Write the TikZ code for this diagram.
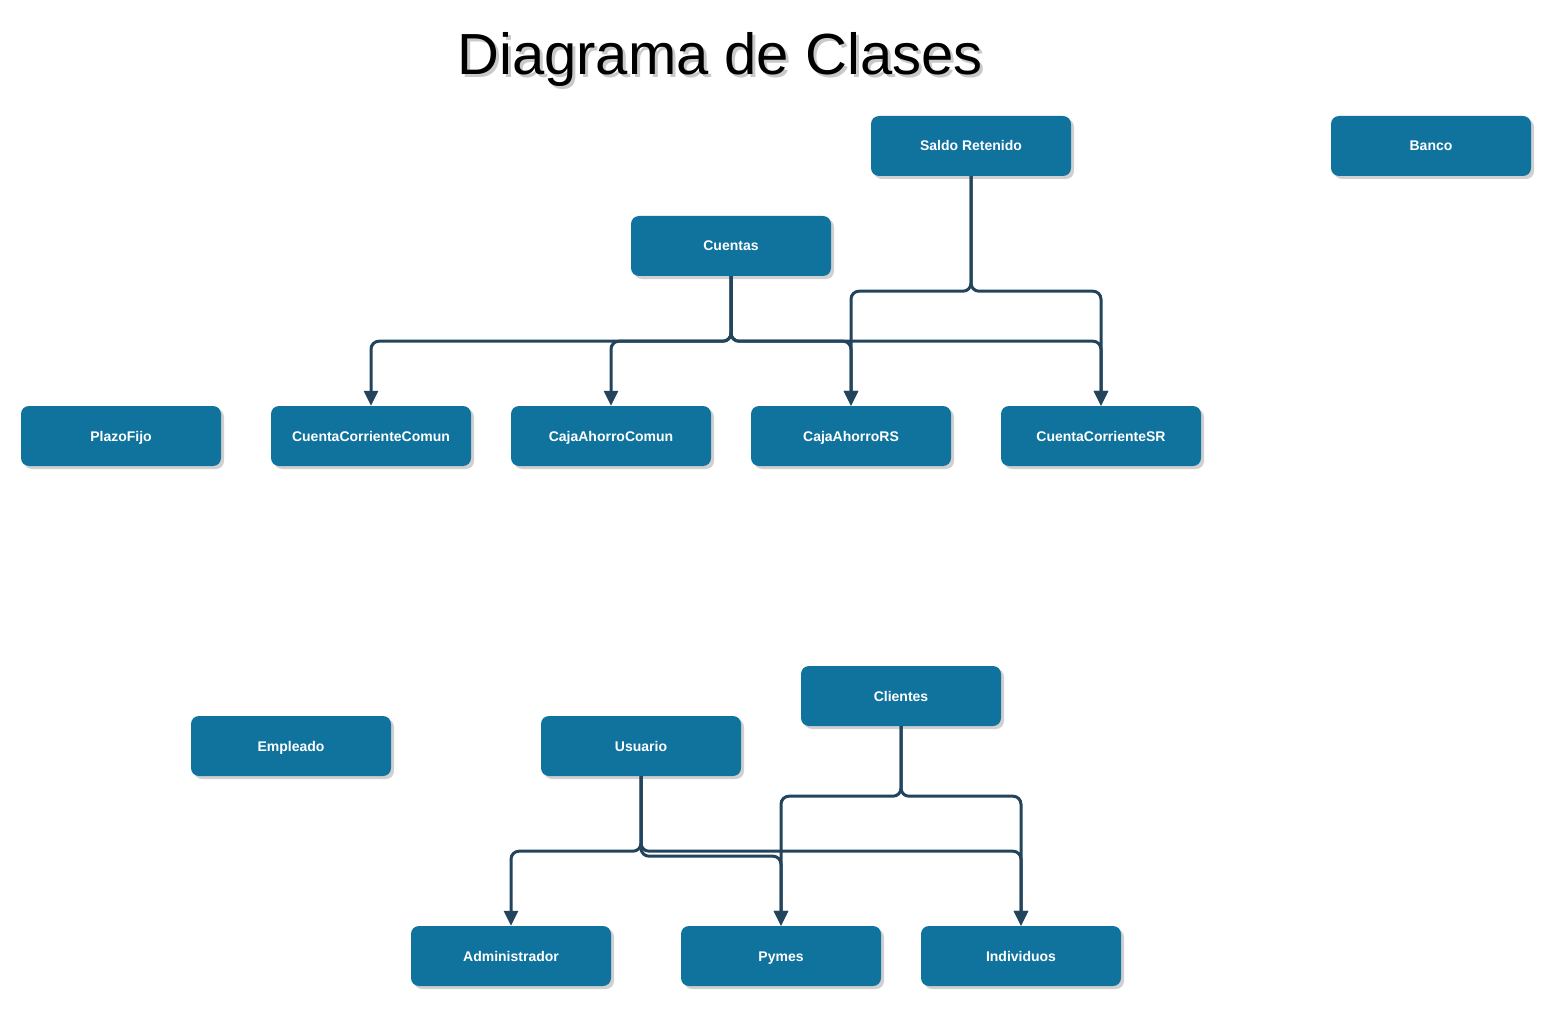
\documentclass[tikz,border=0pt]{standalone}
\usepackage{fontspec}
\setmainfont{Liberation Sans}
\usetikzlibrary{arrows.meta,shadows}
\definecolor{boxblue}{HTML}{10739E}
\definecolor{edgeblue}{HTML}{23445D}
\tikzset{
  cls/.style={rectangle, rounded corners=8pt, fill=boxblue, draw=none,
    minimum width=200pt, minimum height=60pt, inner sep=0pt,
    text height=11.5pt, text depth=1.5pt,
    text=white, font=\fontsize{14pt}{16pt}\selectfont\bfseries,
    drop shadow={shadow xshift=3pt, shadow yshift=-3pt, opacity=0.3, fill=black!60}},
  edge/.style={draw=edgeblue, line width=3pt, rounded corners=8pt,
    -{Triangle[length=15pt,width=14pt]}},
  titletext/.style={font=\fontsize{58pt}{64pt}\selectfont, inner sep=0pt}
}
\begin{document}
\begin{tikzpicture}[x=1pt,y=-1pt]
\useasboundingbox[fill=white] (0,0) rectangle (1564,1019);
% title
\node[titletext, text=black!35, opacity=0.6] at (723,63) {Diagrama de Clases};
\node[titletext, text=black] (title) at (720,60) {Diagrama de Clases};
% classes
\node[cls] (saldo) at (971,146) {Saldo Retenido};
\node[cls] (banco) at (1431,146) {Banco};
\node[cls] (cuentas) at (731,246) {Cuentas};
\node[cls] (plazo) at (121,436) {PlazoFijo};
\node[cls] (ccc) at (371,436) {CuentaCorrienteComun};
\node[cls] (cac) at (611,436) {CajaAhorroComun};
\node[cls] (cars) at (851,436) {CajaAhorroRS};
\node[cls] (ccsr) at (1101,436) {CuentaCorrienteSR};
\node[cls] (clientes) at (901,696) {Clientes};
\node[cls] (empleado) at (291,746) {Empleado};
\node[cls] (usuario) at (641,746) {Usuario};
\node[cls] (admin) at (511,956) {Administrador};
\node[cls] (pymes) at (781,956) {Pymes};
\node[cls] (indiv) at (1021,956) {Individuos};
% connectors: Cuentas
\draw[edge] (cuentas.south) -- ++(0,65) -| (ccc.north);
\draw[edge] (cuentas.south) -- ++(0,65) -| (cac.north);
\draw[edge] (cuentas.south) -- ++(0,65) -| (cars.north);
\draw[edge] (cuentas.south) -- ++(0,65) -| (ccsr.north);
% Saldo Retenido
\draw[edge] (saldo.south) -- ++(0,115) -| (cars.north);
\draw[edge] (saldo.south) -- ++(0,115) -| (ccsr.north);
% Usuario
\draw[edge] (usuario.south) -- ++(0,75) -| (admin.north);
\draw[edge] (usuario.south) -- ++(0,80) -| (pymes.north);
\draw[edge] (usuario.south) -- ++(0,75) -| (indiv.north);
% Clientes
\draw[edge] (clientes.south) -- ++(0,70) -| (pymes.north);
\draw[edge] (clientes.south) -- ++(0,70) -| (indiv.north);
\end{tikzpicture}
\end{document}
